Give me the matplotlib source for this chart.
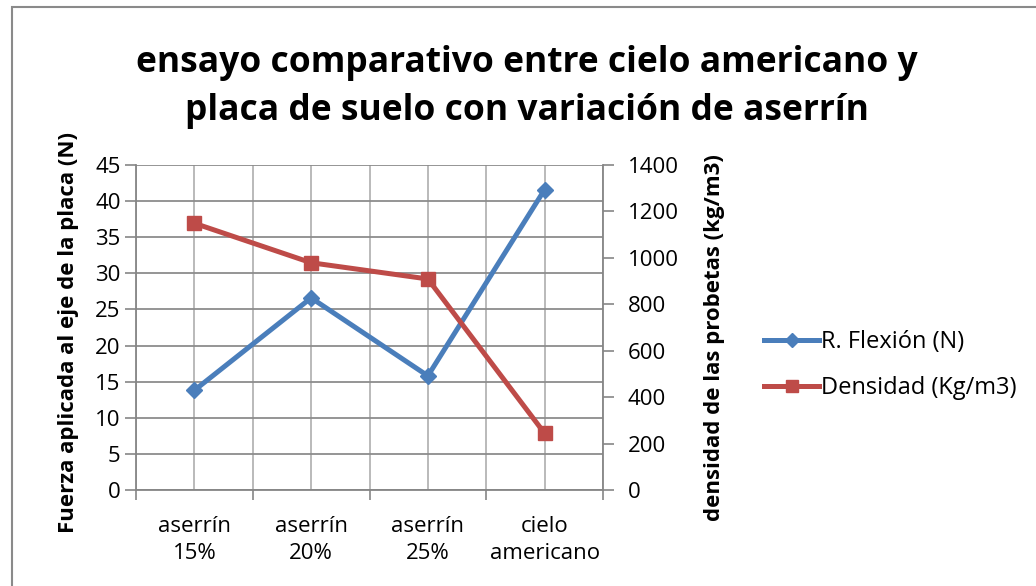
import matplotlib.pyplot as plt
from matplotlib.lines import Line2D
from matplotlib.patches import Rectangle

categories = ["aserrín\n15%", "aserrín\n20%", "aserrín\n25%", "cielo\namericano"]
flexion = [13.8, 26.6, 15.8, 41.6]          # N, left axis
densidad = [1149, 979, 909, 244]            # kg/m3, right axis

BLUE = "#4a7ebb"
RED = "#be4b48"
GRID = "#8c8c8c"
GRID_V = "#b4b4b4"
AXIS = "#868686"
FONT = ["Open Sans", "DejaVu Sans"]

plt.rcParams["font.family"] = FONT

W, H = 1036, 586
fig = plt.figure(figsize=(W / 100, H / 100), dpi=100)

# outer chart frame (left and top edges visible)
fig.patches.append(Rectangle((11.5 / W, -0.1), 1.2, 1.1 - 7.5 / H, transform=fig.transFigure,
                             fill=False, edgecolor="#8a8a8a", linewidth=1.5))

x0, x1, ytop, ybot = 136, 603, 165, 490
ax = fig.add_axes([x0 / W, (H - ybot) / H, (x1 - x0) / W, (ybot - ytop) / H])
ax2 = ax.twinx()

xs = list(range(len(categories)))
ax.plot(xs, flexion, color=BLUE, linewidth=3.6, marker="D", markersize=8,
        solid_capstyle="round", zorder=3)
ax2.plot(xs, densidad, color=RED, linewidth=3.6, marker="s", markersize=9.5,
         solid_capstyle="round", zorder=3)

ax.set_xlim(-0.5, len(categories) - 0.5)
ax.set_ylim(0, 45)
ax.set_yticks(range(0, 46, 5))
ax2.set_ylim(0, 1400)
ax2.set_yticks(range(0, 1401, 200))

# major ticks on category boundaries, labels sit on the minor (centre) ticks
ax.set_xticks([i - 0.5 for i in range(len(categories) + 1)])
ax.set_xticklabels([])
ax.set_xticks(xs, minor=True)
ax.set_xticklabels(categories, minor=True, fontsize=16, linespacing=1.34)
ax.tick_params(axis="x", which="major", length=7, width=1.2, color=AXIS, direction="out")
ax.tick_params(axis="x", which="minor", length=0, pad=19)

ax.grid(axis="y", color=GRID, linewidth=1.3)
ax.grid(axis="x", which="both", color=GRID_V, linewidth=1.3)
ax.set_axisbelow(True)

for a in (ax, ax2):
    for s in a.spines.values():
        s.set_visible(False)
ax.spines["left"].set_visible(True)
ax.spines["bottom"].set_visible(True)
ax2.spines["right"].set_visible(True)
for s in (ax.spines["left"], ax.spines["bottom"], ax2.spines["right"]):
    s.set_color(AXIS)
    s.set_linewidth(1.3)

ax.tick_params(axis="y", length=8, width=1.2, color=AXIS, labelsize=16, pad=3)
ax2.tick_params(axis="y", length=8, width=1.2, color=AXIS, labelsize=16, pad=10)

ax.set_ylabel("Fuerza aplicada al eje de la placa (N)", fontsize=16, fontweight="bold")
ax2.set_ylabel("densidad de las probetas (kg/m3)", fontsize=16, fontweight="bold")
ax.yaxis.set_label_coords(-0.122, 0.486)
ax2.yaxis.set_label_coords(1.2163, 0.469)

fig.text(527 / W, 1 - 87 / H, "ensayo comparativo entre cielo americano y\n"
         "placa de suelo con variación de aserrín", ha="center", va="center",
         fontsize=25.5, fontweight="bold", linespacing=1.46)

handles = [
    Line2D([], [], color=BLUE, linewidth=3.6, marker="D", markersize=7),
    Line2D([], [], color=RED, linewidth=3.6, marker="s", markersize=8),
]
fig.legend(handles, ["R. Flexión (N)", "Densidad (Kg/m3)"], frameon=False,
           loc="center left", bbox_to_anchor=(764 / W, 1 - 365 / H),
           fontsize=17, handlelength=2.35, handletextpad=0.05,
           labelspacing=0.95, borderaxespad=0, borderpad=0)

fig.savefig("out.png", dpi=100)
